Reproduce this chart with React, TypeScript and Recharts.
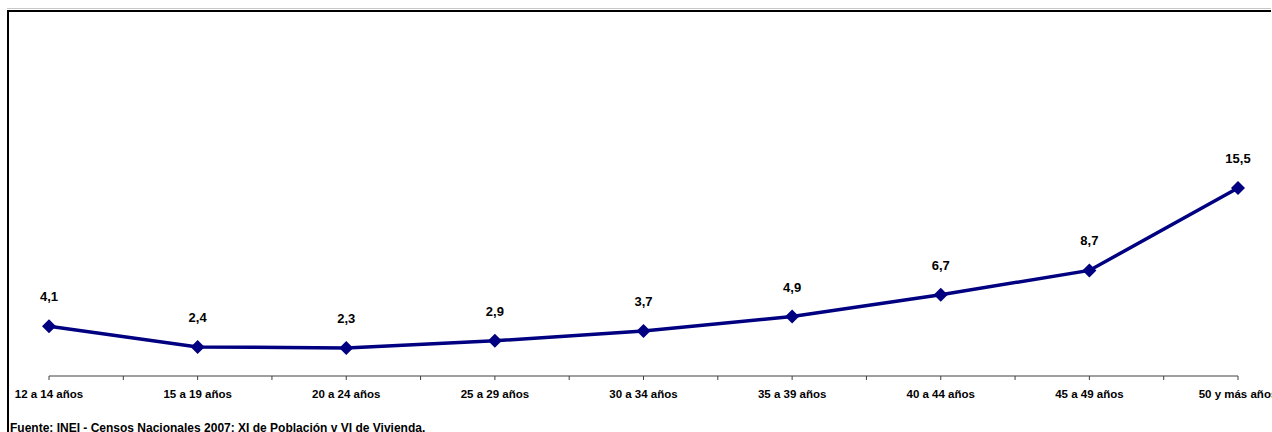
import React from 'react';
import { LineChart, Line, XAxis, YAxis, LabelList } from 'recharts';

const categories = [
  '12 a 14 años',
  '15 a 19 años',
  '20 a 24 años',
  '25 a 29 años',
  '30 a 34 años',
  '35 a 39 años',
  '40 a 44 años',
  '45 a 49 años',
  '50 y más años',
];
const values = [4.1, 2.4, 2.3, 2.9, 3.7, 4.9, 6.7, 8.7, 15.5];
const tickPositions = [0, 0.5, 1, 1.5, 2, 2.5, 3, 3.5, 4, 4.5, 5, 5.5, 6, 6.5, 7, 7.5, 8];
const sourceNote = 'Fuente: INEI - Censos Nacionales 2007: XI de Población y VI de Vivienda.';

const data = categories.map((c, i) => ({ idx: i, name: c, value: values[i] }));

const fmt = (v: number) => v.toFixed(1).replace('.', ',');

const Diamond = (props: any) => {
  const { cx, cy } = props;
  if (cx == null || cy == null) return null;
  const r = 7;
  return (
    <polygon
      points={`${cx},${cy - r} ${cx + r},${cy} ${cx},${cy + r} ${cx - r},${cy}`}
      fill="#000080"
      stroke="none"
    />
  );
};

const ValueLabel = (props: any) => {
  const { x, y, value } = props;
  return (
    <text
      x={x}
      y={y - 25}
      textAnchor="middle"
      fontFamily="'Liberation Sans', Arial, sans-serif"
      fontWeight="bold"
      fontSize={13}
      fill="#000"
    >
      {fmt(value)}
    </text>
  );
};

export default function App() {
  return (
    <div
      style={{
        position: 'absolute',
        left: 0,
        top: 0,
        width: 1272,
        height: 432,
        overflow: 'hidden',
        background: '#fff',
        fontFamily: "'Liberation Sans', Arial, sans-serif",
      }}
    >
      <div style={{ position: 'absolute', left: 7, top: 8, width: 1264, height: 1, background: '#c8c8c8' }} />
      <div
        style={{
          position: 'absolute',
          left: 7,
          top: 10,
          width: 1264,
          height: 440,
          borderLeft: '2px solid #000',
          borderTop: '2px solid #000',
          boxSizing: 'border-box',
        }}
      />
      <div style={{ position: 'absolute', left: 0, top: 0 }}>
        <LineChart
          width={1272}
          height={432}
          data={data}
          margin={{ top: 12, right: 34, bottom: 26, left: 49 }}
        >
          <XAxis
            dataKey="idx"
            type="number"
            domain={[0, 8]}
            ticks={tickPositions}
            interval={0}
            tickFormatter={(v: number) => (Number.isInteger(v) ? categories[v] : '')}
            tick={{
              fill: '#000',
              fontSize: 11.5,
              fontWeight: 'bold',
              fontFamily: "'Liberation Sans', Arial, sans-serif",
            }}
            tickSize={4}
            tickMargin={10}
            height={30}
            stroke="#404040"
            tickLine={{ stroke: '#404040' }}
            axisLine={{ stroke: '#404040' }}
            padding={{ left: 0, right: 0 }}
          />
          <YAxis hide domain={[0, 30]} />
          <Line
            type="linear"
            dataKey="value"
            stroke="#000080"
            strokeWidth={3.5}
            dot={<Diamond />}
            activeDot={false}
            isAnimationActive={false}
          >
            <LabelList dataKey="value" content={<ValueLabel />} />
          </Line>
        </LineChart>
      </div>
      <div
        style={{
          position: 'absolute',
          left: 10,
          top: 421,
          fontSize: 12,
          fontWeight: 'bold',
          color: '#000',
          whiteSpace: 'nowrap',
          lineHeight: '14px',
        }}
      >
        {sourceNote}
      </div>
    </div>
  );
}
